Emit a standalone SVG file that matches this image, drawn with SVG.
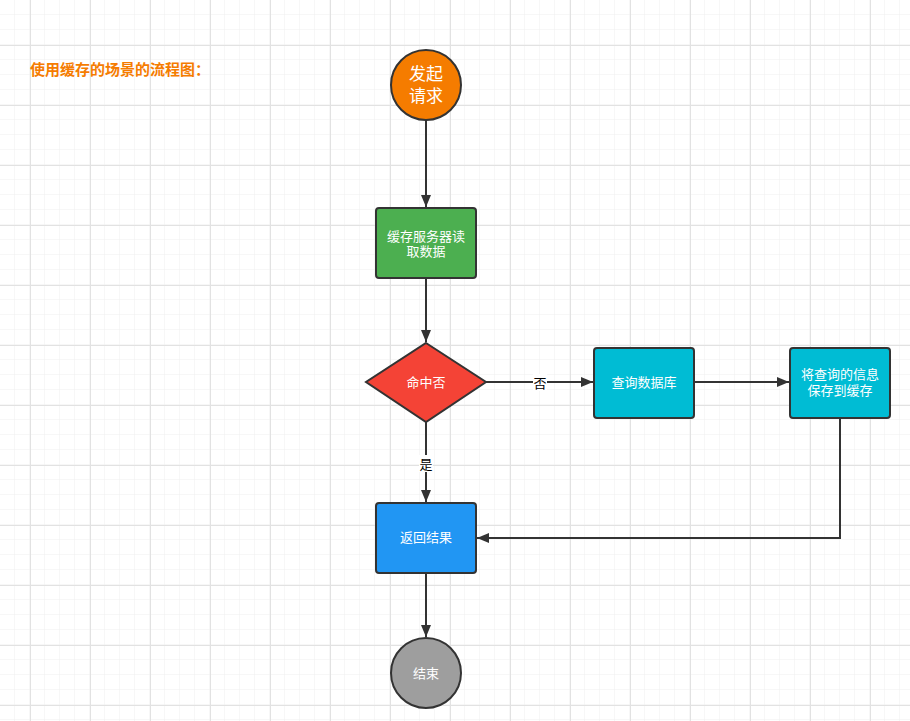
<svg xmlns="http://www.w3.org/2000/svg" width="910" height="721" viewBox="0 0 910 721">
<defs>
<pattern id="minor" width="15" height="15" patternUnits="userSpaceOnUse" x="0" y="0">
<path d="M15 0V15M0 15H15" fill="none" stroke="#efefef" stroke-width="1"/>
</pattern>
<pattern id="major" width="60" height="60" patternUnits="userSpaceOnUse" x="30" y="45">
<path d="M0.5 0V60M0 0.5H60" fill="none" stroke="#e2e2e2" stroke-width="1"/>
</pattern>
<marker id="arr" viewBox="0 0 12 10" refX="12" refY="5" markerWidth="6" markerHeight="5" orient="auto" markerUnits="strokeWidth">
<path d="M0 0L12 5L0 10Z" fill="#333"/>
</marker>
<style>
.n{stroke:#333;stroke-width:2}
.t{fill:#fff;font-family:"Microsoft YaHei","Noto Sans CJK SC",sans-serif;font-size:13px;text-anchor:middle}
.c{fill:none;stroke:#333;stroke-width:2}
.l{fill:#000;font-family:"Noto Sans CJK SC",sans-serif;font-size:13px;text-anchor:middle}
</style>
</defs>
<rect width="910" height="721" fill="#fff"/>
<rect width="910" height="721" fill="url(#minor)"/>
<rect width="910" height="721" fill="url(#major)"/>
<text x="30" y="75" font-family="'Noto Sans CJK SC',sans-serif" font-size="15" font-weight="bold" fill="#F57C00">使用缓存的场景的流程图：</text>
<g id="connectors">
<path class="c" d="M426 120V207" marker-end="url(#arr)"/>
<path class="c" d="M426 278V342" marker-end="url(#arr)"/>
<path class="c" d="M486 382H593" marker-end="url(#arr)"/>
<path class="c" d="M694 382H789" marker-end="url(#arr)"/>
<path class="c" d="M426 422V502" marker-end="url(#arr)"/>
<path class="c" d="M840 418V538H477" marker-end="url(#arr)"/>
<path class="c" d="M426 573V637" marker-end="url(#arr)"/>
<rect x="533" y="374" width="14" height="17" fill="#fff"/>
<text class="l" x="540" y="388">否</text>
<rect x="419" y="455" width="14" height="17" fill="#fff"/>
<text class="l" x="426" y="469">是</text>
</g>
<g id="start">
<circle class="n" cx="426" cy="85" r="35" fill="#F57C00"/>
<text class="t" x="426" y="80" style="font-size:17px">发起</text>
<text class="t" x="426" y="102" style="font-size:17px">请求</text>
</g>
<g id="read">
<rect class="n" x="376" y="208" width="100" height="70" rx="3" fill="#4CAF50"/>
<text class="t" x="426" y="241">缓存服务器读</text>
<text class="t" x="426" y="256">取数据</text>
</g>
<g id="hit">
<path class="n" d="M426 343L486 382L426 422L366 382Z" fill="#F44336"/>
<text class="t" x="426" y="387">命中否</text>
</g>
<g id="query">
<rect class="n" x="594" y="348" width="100" height="70" rx="3" fill="#00BCD4"/>
<text class="t" x="644" y="387">查询数据库</text>
</g>
<g id="save">
<rect class="n" x="790" y="348" width="100" height="70" rx="3" fill="#00BCD4"/>
<text class="t" x="840" y="379">将查询的信息</text>
<text class="t" x="840" y="395">保存到缓存</text>
</g>
<g id="result">
<rect class="n" x="376" y="503" width="100" height="70" rx="3" fill="#2196F3"/>
<text class="t" x="426" y="542">返回结果</text>
</g>
<g id="end">
<circle class="n" cx="426" cy="673" r="35" fill="#9E9E9E"/>
<text class="t" x="426" y="678">结束</text>
</g>
</svg>
